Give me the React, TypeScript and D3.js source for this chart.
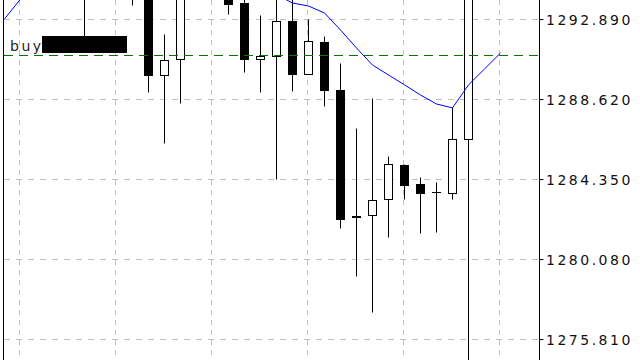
import React from 'react';
import * as d3 from 'd3';

const W = 640;
const H = 360;

// Bar index 0..31 (one per candle slot across the visible window)
const barIndex = d3.range(32);
const opens = [
  1295.6, 1296.0, 1296.6, 1296.1, 1295.5, 1295.0, 1294.4, 1295.0, 1294.6, 1294.9,
  1289.88, 1290.74, 1294.6, 1295.3, 1294.5, 1293.74, 1290.74, 1290.93, 1292.78, 1289.97,
  1291.66, 1289.12, 1282.37, 1282.41, 1283.27, 1285.10, 1284.07, 1283.64, 1283.59, 1286.47,
  1295.9, 1296.8,
];
const highs = [
  1296.4, 1297.0, 1297.3, 1296.8, 1296.2, 1295.4, 1295.3, 1295.8, 1295.2, 1295.3,
  1292.09, 1295.1, 1295.8, 1295.9, 1294.9, 1294.1, 1293.10, 1294.3, 1294.2, 1292.89,
  1291.97, 1290.54, 1287.07, 1288.67, 1285.58, 1285.17, 1284.46, 1284.19, 1288.18, 1296.5,
  1297.2, 1297.5,
];
const lows = [
  1294.9, 1295.4, 1295.8, 1295.2, 1294.6, 1291.7, 1294.1, 1294.3, 1293.64, 1288.99,
  1286.26, 1288.39, 1294.2, 1294.3, 1293.17, 1290.08, 1289.01, 1284.35, 1289.06, 1289.97,
  1288.26, 1281.73, 1279.19, 1277.23, 1281.27, 1283.27, 1281.48, 1281.54, 1283.30, 1274.3,
  1294.6, 1295.4,
];
const closes = [
  1296.0, 1296.6, 1296.1, 1295.5, 1295.0, 1294.4, 1295.0, 1294.6, 1294.9, 1289.90,
  1290.69, 1294.6, 1295.3, 1294.5, 1293.71, 1290.76, 1290.90, 1292.77, 1289.97, 1291.70,
  1289.12, 1282.23, 1282.30, 1283.21, 1285.13, 1284.03, 1283.62, 1283.64, 1286.47, 1295.9,
  1296.8, 1296.2,
];
// Moving average (blue line)
const maValues = [
  1292.92, 1293.98, 1294.4, 1294.8, 1295.1, 1295.3, 1295.4, 1295.4, 1295.3, 1295.2,
  1295.0, 1294.9, 1294.8, 1294.7, 1294.6, 1294.5, 1294.35, 1294.22, 1293.77, 1293.61,
  1293.24, 1292.33, 1291.37, 1290.46, 1289.93, 1289.40, 1288.86, 1288.38, 1288.17, 1289.40,
  1290.25, 1291.10,
];
const priceTicks = [1292.89, 1288.62, 1284.35, 1280.08, 1275.81];
const tickLabels = ['1292.890', '1288.620', '1284.350', '1280.080', '1275.810'];
const timeGridBars = [1, 7, 13, 19, 25, 31];
const buyLevel = 1290.97;
const buyLabel = 'buy';

const FONT = '"DejaVu Sans", sans-serif';

export default function App() {
  const x = d3.scaleLinear().domain([0, 31]).range([4.5, 500.5]);
  const y = d3
    .scaleLinear()
    .domain([priceTicks[4], priceTicks[0]])
    .range([339.5, 19.5]);
  const axisX = 539.5;
  const px = (v: number) => Math.floor(y(v)) + 0.5;

  const maLine = d3
    .line<number>()
    .x((_, i) => x(i))
    .y((d) => y(d))(maValues) as string;

  const half = 4;

  return (
    <svg
      width={W}
      height={H}
      style={{ position: 'absolute', left: 0, top: 0, background: '#fff' }}
    >
      <defs>
        <clipPath id="plot">
          <rect x={4} y={0} width={axisX - 4} height={H} />
        </clipPath>
      </defs>
      <rect x={0} y={0} width={W} height={H} fill="#fff" />
      {/* grid */}
      <g stroke="#c0c0c0" strokeWidth={1} fill="none">
        {priceTicks.map((p) => (
          <line
            key={'h' + p}
            x1={4}
            x2={axisX - 1}
            y1={y(p)}
            y2={y(p)}
            strokeDasharray="6,6"
          />
        ))}
        {timeGridBars.map((b) => (
          <line
            key={'v' + b}
            x1={x(b) - 1}
            x2={x(b) - 1}
            y1={0}
            y2={H}
            strokeDasharray="5,5"
          />
        ))}
      </g>
      {/* candles */}
      <g clipPath="url(#plot)">
        {barIndex.map((i) => {
          const cx = x(i);
          const o = opens[i];
          const c = closes[i];
          const top = px(Math.max(o, c));
          const bot = px(Math.min(o, c));
          const bear = c < o;
          return (
            <g key={'c' + i}>
              <line
                x1={cx}
                x2={cx}
                y1={px(highs[i])}
                y2={px(lows[i])}
                stroke="#000"
                strokeWidth={1}
              />
              {bot - top < 1 ? (
                <line
                  x1={cx - half - 0.5}
                  x2={cx + half + 0.5}
                  y1={top}
                  y2={top}
                  stroke="#000"
                  strokeWidth={1}
                />
              ) : (
                <rect
                  x={cx - half}
                  y={top}
                  width={half * 2}
                  height={bot - top}
                  fill={bear ? '#000' : '#fff'}
                  stroke="#000"
                  strokeWidth={1}
                />
              )}
            </g>
          );
        })}
        {/* moving average */}
        <path d={maLine} fill="none" stroke="#0000ff" strokeWidth={1} />
        {/* buy level */}
        <line
          x1={4}
          x2={axisX}
          y1={px(buyLevel)}
          y2={px(buyLevel)}
          stroke="#007a00"
          strokeWidth={1}
          strokeDasharray="9,6"
        />
      </g>
      {/* buy label */}
      <text
        x={10}
        y={51}
        fontFamily={FONT}
        fontSize={14}
        letterSpacing={2.5}
        fill="#222"
      >
        {buyLabel}
      </text>
      <rect x={42} y={36} width={85} height={17} fill="#000" />
      {/* left border */}
      <line x1={3.5} x2={3.5} y1={0} y2={H} stroke="#000" strokeWidth={1} />
      {/* right price axis */}
      <line x1={axisX} x2={axisX} y1={0} y2={H} stroke="#000" strokeWidth={1} />
      {priceTicks.map((p, i) => (
        <g key={'t' + p}>
          <line
            x1={axisX}
            x2={axisX + 4}
            y1={y(p)}
            y2={y(p)}
            stroke="#000"
            strokeWidth={1}
          />
          <text
            x={546}
            y={y(p) + 5.5}
            fontFamily={FONT}
            fontSize={14}
            letterSpacing={2.5}
            fill="#111"
          >
            {tickLabels[i]}
          </text>
        </g>
      ))}
    </svg>
  );
}
